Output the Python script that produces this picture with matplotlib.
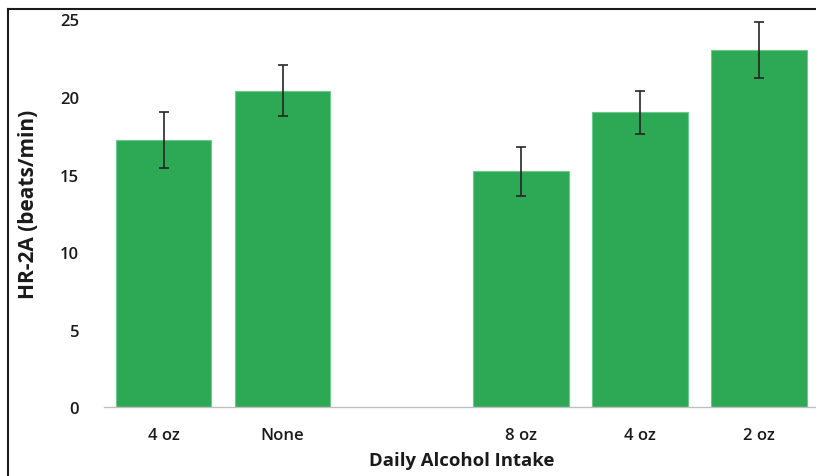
import matplotlib
matplotlib.use("Agg")
import matplotlib.pyplot as plt
from matplotlib.lines import Line2D
import numpy as np

plt.rcParams.update({"font.family": ["Open Sans", "DejaVu Sans"]})

# Heart rate by daily alcohol intake (empty slot separates the two groups)
categories = ["4 oz", "None", "", "8 oz", "4 oz", "2 oz"]
hr_mean = [17.2, 20.4, np.nan, 15.2, 19.0, 23.0]
hr_err = [1.8, 1.65, np.nan, 1.6, 1.4, 1.8]
y_ticks = [0, 5, 10, 15, 20, 25]

BAR_GREEN = "#2da955"

fig = plt.figure(figsize=(8.16, 4.77), dpi=100)
ax = fig.add_axes([0.1275, 0.144, 0.8757, 0.8134])

x = np.arange(len(categories))
ax.bar(x, hr_mean, width=0.8, color=BAR_GREEN, edgecolor="#6cc88c",
       linewidth=0.8, zorder=2)
ax.errorbar(x, hr_mean, yerr=hr_err, fmt="none", ecolor="#262626",
            elinewidth=1.2, capsize=3.5, capthick=1.2, zorder=3)

ax.set_xlim(-0.5, len(categories) - 0.5)
ax.set_ylim(0, 25)
ax.set_yticks(y_ticks)
ax.set_xticks(x)
ax.set_xticklabels(categories)
ax.tick_params(axis="both", length=0, labelsize=12, colors="#1a1a1a")
ax.tick_params(axis="x", pad=14)
ax.tick_params(axis="y", pad=18)
for lab in ax.get_xticklabels() + ax.get_yticklabels():
    lab.set_fontweight("semibold")

for side in ("top", "right", "left"):
    ax.spines[side].set_visible(False)
ax.spines["bottom"].set_color("#bfbfbf")
ax.spines["bottom"].set_linewidth(1.0)

ax.set_ylabel("HR-2A (beats/min)", fontsize=15, fontweight="bold",
              color="#1a1a1a")
ax.yaxis.set_label_coords(-0.091, 0.526)
ax.set_xlabel("Daily Alcohol Intake", fontsize=13.3, fontweight="bold",
              color="#1a1a1a", labelpad=6)

# Outer frame (top and left edges only, the rest runs off the canvas)
W, H = 816, 477
fig.add_artist(Line2D([8 / W, 1.0], [1 - 10 / H, 1 - 10 / H],
                      transform=fig.transFigure, color="#1a1a1a", lw=1.5))
fig.add_artist(Line2D([8 / W, 8 / W], [0.0, 1 - 10 / H],
                      transform=fig.transFigure, color="#1a1a1a", lw=1.5))

fig.savefig("out.png", dpi=100)
